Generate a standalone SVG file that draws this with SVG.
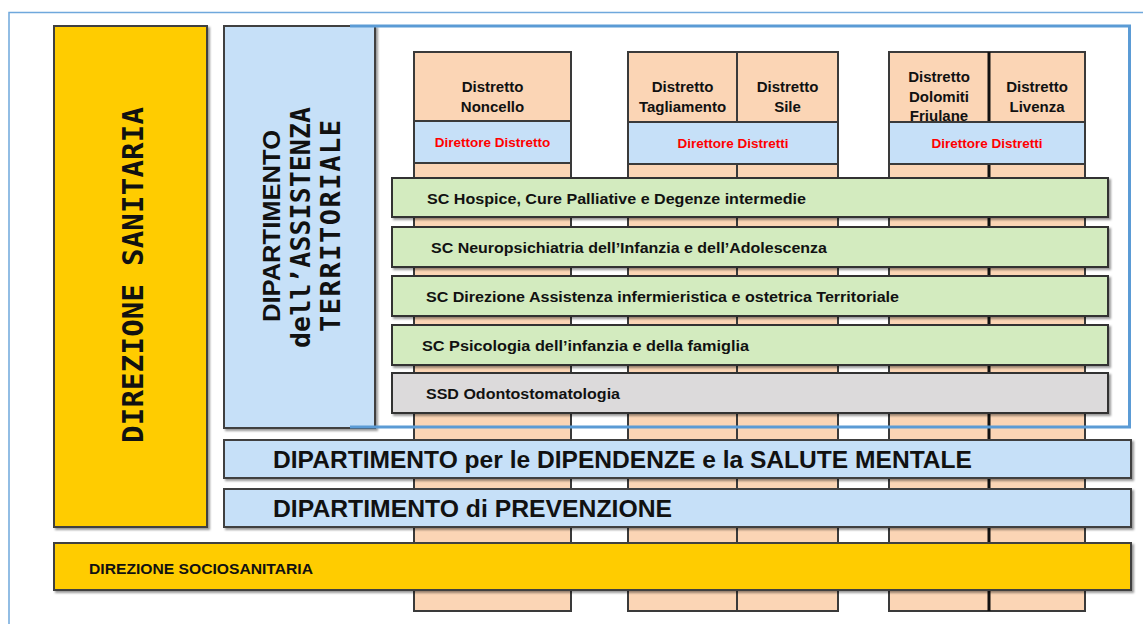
<svg xmlns="http://www.w3.org/2000/svg" width="1143" height="624" viewBox="0 0 1143 624">
<defs>
<filter id="sh" x="-5%" y="-5%" width="110%" height="120%">
<feDropShadow dx="2" dy="2" stdDeviation="1" flood-color="#000" flood-opacity="0.4"/>
</filter>
<style>
.col{fill:#FBD5B5;stroke:#3a3a3a;stroke-width:2}
.blue{fill:#C6E0F8;stroke:#404040;stroke-width:2;filter:url(#sh)}
.yel{fill:#FFCC00;stroke:#404040;stroke-width:2;filter:url(#sh)}
.grn{fill:#D3EBBF;stroke:#303030;stroke-width:2;filter:url(#sh)}
.gry{fill:#DCDADB;stroke:#303030;stroke-width:2;filter:url(#sh)}
.dir{fill:#C6E0F8;stroke:#3a3a3a;stroke-width:2}
.t{font-family:"Liberation Sans",Arial,sans-serif;font-weight:bold;fill:#111}
.m{font-family:"DejaVu Sans Mono","Liberation Mono",monospace;font-weight:bold;fill:#111}
.dl{font-size:15px;text-anchor:middle}
.red{font-family:"Liberation Sans",Arial,sans-serif;font-weight:bold;font-size:13.5px;fill:#FF0000;text-anchor:middle}
.bar{font-size:14px}
.frame{fill:none;stroke:#5B9BD5;stroke-width:3}
</style>
</defs>
<rect width="1143" height="624" fill="#fff"/>
<path d="M9 630 V12.5 H1150" fill="none" stroke="#6FA8DC" stroke-width="1.5"/>

<g id="direzione-sanitaria">
<rect class="yel" x="54" y="26" width="153" height="501"/>
<text class="m" font-size="29" text-anchor="middle" textLength="336" transform="translate(143,275) rotate(-90)">DIREZIONE SANITARIA</text>
</g>

<g id="distretto-noncello">
<rect class="col" x="414" y="52" width="157" height="559"/>
<text class="t dl" x="492.5" y="92">Distretto</text>
<text class="t dl" x="492.5" y="112">Noncello</text>
</g>
<g id="distretto-tagliamento">
<rect class="col" x="628" y="52" width="109" height="559"/>
<text class="t dl" x="682.5" y="92">Distretto</text>
<text class="t dl" x="682.5" y="112">Tagliamento</text>
</g>
<g id="distretto-sile">
<rect class="col" x="737" y="52" width="101" height="559"/>
<text class="t dl" x="787.5" y="92">Distretto</text>
<text class="t dl" x="787.5" y="112">Sile</text>
</g>
<g id="distretto-dolomiti">
<rect class="col" x="889" y="52" width="100" height="559"/>
<text class="t dl" x="939" y="82">Distretto</text>
<text class="t dl" x="939" y="102">Dolomiti</text>
<text class="t dl" x="939" y="121">Friulane</text>
</g>
<g id="distretto-livenza">
<rect class="col" x="989" y="52" width="96" height="559"/>
<text class="t dl" x="1037" y="92">Distretto</text>
<text class="t dl" x="1037" y="112">Livenza</text>
</g>
<line x1="989" y1="52" x2="989" y2="611" stroke="#111" stroke-width="3"/>

<g id="direttore-1">
<rect class="dir" x="414" y="121" width="157" height="42"/>
<text class="red" x="492.5" y="147">Direttore Distretto</text>
</g>
<g id="direttore-2">
<rect class="dir" x="628" y="122" width="210" height="42"/>
<text class="red" x="733" y="148">Direttore Distretti</text>
</g>
<g id="direttore-3">
<rect class="dir" x="889" y="122" width="196" height="42"/>
<text class="red" x="987" y="148">Direttore Distretti</text>
</g>

<g id="sc-hospice">
<rect class="grn" x="392" y="178" width="716" height="39"/>
<text class="t bar" x="427" y="204" textLength="379" lengthAdjust="spacingAndGlyphs">SC Hospice,  Cure Palliative e Degenze intermedie</text>
</g>
<g id="sc-neuropsichiatria">
<rect class="grn" x="392" y="227" width="716" height="40"/>
<text class="t bar" x="431" y="253" textLength="396" lengthAdjust="spacingAndGlyphs">SC Neuropsichiatria  dell’Infanzia  e dell’Adolescenza</text>
</g>
<g id="sc-direzione-assistenza">
<rect class="grn" x="392" y="276" width="716" height="40"/>
<text class="t bar" x="426" y="302" textLength="473" lengthAdjust="spacingAndGlyphs">SC Direzione  Assistenza  infermieristica e ostetrica  Territoriale</text>
</g>
<g id="sc-psicologia">
<rect class="grn" x="392" y="325" width="716" height="40"/>
<text class="t bar" x="422" y="351" textLength="327" lengthAdjust="spacingAndGlyphs">SC Psicologia  dell’infanzia  e della famiglia</text>
</g>
<g id="ssd-odontostomatologia">
<rect class="gry" x="392" y="373" width="716" height="40"/>
<text class="t bar" x="426" y="399" textLength="194" lengthAdjust="spacingAndGlyphs">SSD Odontostomatologia</text>
</g>

<g id="dipartimento-assistenza-territoriale">
<rect class="blue" x="224" y="26" width="151" height="402"/>
<text class="t" font-size="24" text-anchor="middle" textLength="192" lengthAdjust="spacingAndGlyphs" transform="translate(280,226) rotate(-90)">DIPARTIMENTO</text>
<text class="m" font-size="26.5" text-anchor="middle" textLength="241" transform="translate(310,227.5) rotate(-90)">dell’ASSISTENZA</text>
<text class="m" font-size="27" text-anchor="middle" textLength="212" transform="translate(340,226) rotate(-90)">TERRITORIALE</text>
</g>

<g id="connectors">
<path class="frame" d="M350 26 H1129.5 V427 H350"/>
</g>

<g id="dipartimento-dipendenze">
<rect class="blue" x="224" y="440" width="907" height="38"/>
<text class="t" font-size="24" x="273" y="468" textLength="699" lengthAdjust="spacingAndGlyphs">DIPARTIMENTO per le DIPENDENZE e la SALUTE MENTALE</text>
</g>
<g id="dipartimento-prevenzione">
<rect class="blue" x="224" y="489" width="907" height="38"/>
<text class="t" font-size="24" x="273" y="517" textLength="399" lengthAdjust="spacingAndGlyphs">DIPARTIMENTO di PREVENZIONE</text>
</g>
<g id="direzione-sociosanitaria">
<rect class="yel" x="54" y="543" width="1077" height="47"/>
<text class="t" font-size="15" x="89" y="574" textLength="224" lengthAdjust="spacingAndGlyphs">DIREZIONE SOCIOSANITARIA</text>
</g>
</svg>
